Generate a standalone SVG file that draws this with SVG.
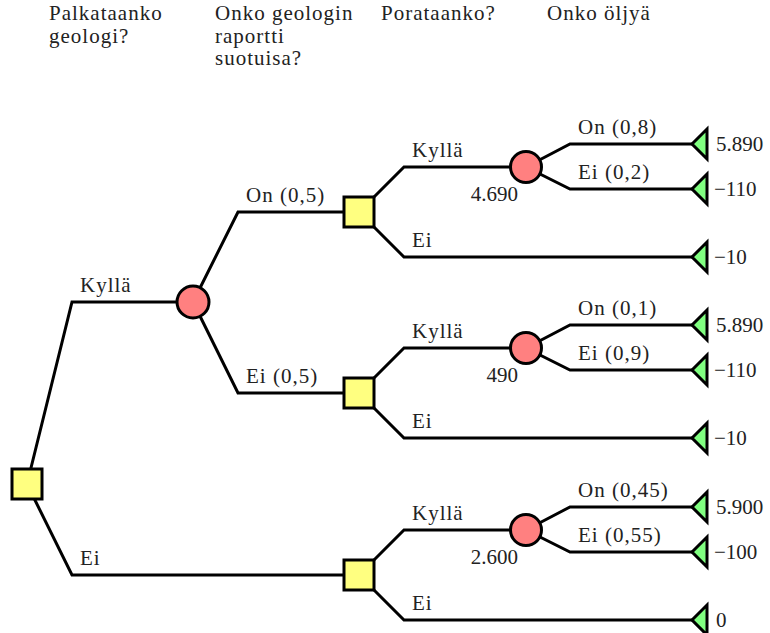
<svg xmlns="http://www.w3.org/2000/svg" width="770" height="633" viewBox="0 0 770 633">
  <g id="headers" fill="#222">
    <text x="49" y="20" font-family="Liberation Serif" font-size="21" letter-spacing="1">Palkataanko</text>
    <text x="49" y="43" font-family="Liberation Serif" font-size="21" letter-spacing="1">geologi?</text>
    <text x="215" y="20" font-family="Liberation Serif" font-size="21" letter-spacing="1">Onko geologin</text>
    <text x="215" y="43" font-family="Liberation Serif" font-size="21" letter-spacing="1">raportti</text>
    <text x="215" y="65" font-family="Liberation Serif" font-size="21" letter-spacing="1">suotuisa?</text>
    <text x="381" y="20" font-family="Liberation Serif" font-size="21" letter-spacing="1">Porataanko?</text>
    <text x="547" y="20" font-family="Liberation Serif" font-size="21" letter-spacing="1">Onko öljyä</text>
  </g>

  <g id="connectors" fill="none" stroke="#000" stroke-width="3">
    <path d="M27,484 L72,302 L193,302"/>
    <path d="M27,484 L72,575 L359,575"/>
    <path d="M193,302 L238,212 L359,212"/>
    <path d="M193,302 L238,393 L359,393"/>
    <path d="M359,212 L404,167 L526,167"/>
    <path d="M359,212 L404,257 L692,257"/>
    <path d="M526,167 L570,144 L692,144"/>
    <path d="M526,167 L570,189 L692,189"/>
    <path d="M359,393 L404,348 L526,348"/>
    <path d="M359,393 L404,438 L692,438"/>
    <path d="M526,348 L570,325 L692,325"/>
    <path d="M526,348 L570,370 L692,370"/>
    <path d="M359,575 L404,530 L526,530"/>
    <path d="M359,575 L404,620 L692,620"/>
    <path d="M526,530 L570,507 L692,507"/>
    <path d="M526,530 L570,552 L692,552"/>
  </g>

  <g id="edge-labels" fill="#222">
    <text x="80" y="292" font-family="Liberation Serif" font-size="21" letter-spacing="1">Kyllä</text>
    <text x="80" y="565" font-family="Liberation Serif" font-size="21" letter-spacing="1">Ei</text>
    <text x="246" y="202" font-family="Liberation Serif" font-size="21" letter-spacing="1">On (0,5)</text>
    <text x="246" y="383" font-family="Liberation Serif" font-size="21" letter-spacing="1">Ei (0,5)</text>
    <text x="412" y="157" font-family="Liberation Serif" font-size="21" letter-spacing="1">Kyllä</text>
    <text x="412" y="247" font-family="Liberation Serif" font-size="21" letter-spacing="1">Ei</text>
    <text x="578" y="134" font-family="Liberation Serif" font-size="21" letter-spacing="1">On (0,8)</text>
    <text x="578" y="179" font-family="Liberation Serif" font-size="21" letter-spacing="1">Ei (0,2)</text>
    <text x="412" y="338" font-family="Liberation Serif" font-size="21" letter-spacing="1">Kyllä</text>
    <text x="412" y="428" font-family="Liberation Serif" font-size="21" letter-spacing="1">Ei</text>
    <text x="578" y="315" font-family="Liberation Serif" font-size="21" letter-spacing="1">On (0,1)</text>
    <text x="578" y="360" font-family="Liberation Serif" font-size="21" letter-spacing="1">Ei (0,9)</text>
    <text x="412" y="520" font-family="Liberation Serif" font-size="21" letter-spacing="1">Kyllä</text>
    <text x="412" y="610" font-family="Liberation Serif" font-size="21" letter-spacing="1">Ei</text>
    <text x="578" y="497" font-family="Liberation Serif" font-size="21" letter-spacing="1">On (0,45)</text>
    <text x="578" y="542" font-family="Liberation Serif" font-size="21" letter-spacing="1">Ei (0,55)</text>
  </g>

  <g fill="#ffff80" stroke="#000" stroke-width="3">
    <g id="d-root"><rect x="12" y="469" width="30" height="30"/></g>
    <g id="d-drill-good"><rect x="344" y="197" width="30" height="30"/></g>
    <g id="d-drill-bad"><rect x="344" y="378" width="30" height="30"/></g>
    <g id="d-drill-none"><rect x="344" y="560" width="30" height="30"/></g>
  </g>

  <g fill="#ff8080" stroke="#000" stroke-width="3">
    <g id="c-report"><circle cx="193" cy="302" r="16"/></g>
    <g id="c-oil-good"><circle cx="526" cy="167" r="15.5"/></g>
    <g id="c-oil-bad"><circle cx="526" cy="348" r="15.5"/></g>
    <g id="c-oil-none"><circle cx="526" cy="530" r="15.5"/></g>
  </g>

  <g fill="#80ff80" stroke="#000" stroke-width="3">
    <g id="t1"><polygon points="692,144 707,129 707,159"/></g>
    <g id="t2"><polygon points="692,189 707,174 707,204"/></g>
    <g id="t3"><polygon points="692,257 707,242 707,272"/></g>
    <g id="t4"><polygon points="692,325 707,310 707,340"/></g>
    <g id="t5"><polygon points="692,370 707,355 707,385"/></g>
    <g id="t6"><polygon points="692,438 707,423 707,453"/></g>
    <g id="t7"><polygon points="692,507 707,492 707,522"/></g>
    <g id="t8"><polygon points="692,552 707,537 707,567"/></g>
    <g id="t9"><polygon points="692,620 707,605 707,635"/></g>
  </g>

  <g id="values" fill="#222">
    <text x="518" y="201" text-anchor="end" font-family="Liberation Serif" font-size="21">4.690</text>
    <text x="518" y="382" text-anchor="end" font-family="Liberation Serif" font-size="21">490</text>
    <text x="518" y="564" text-anchor="end" font-family="Liberation Serif" font-size="21">2.600</text>
    <text x="716" y="151" font-family="Liberation Serif" font-size="21">5.890</text>
    <text x="714" y="196" font-family="Liberation Serif" font-size="21">−110</text>
    <text x="714" y="264" font-family="Liberation Serif" font-size="21">−10</text>
    <text x="716" y="332" font-family="Liberation Serif" font-size="21">5.890</text>
    <text x="714" y="377" font-family="Liberation Serif" font-size="21">−110</text>
    <text x="714" y="445" font-family="Liberation Serif" font-size="21">−10</text>
    <text x="716" y="514" font-family="Liberation Serif" font-size="21">5.900</text>
    <text x="714" y="559" font-family="Liberation Serif" font-size="21">−100</text>
    <text x="716" y="627" font-family="Liberation Serif" font-size="21">0</text>
  </g>
</svg>
